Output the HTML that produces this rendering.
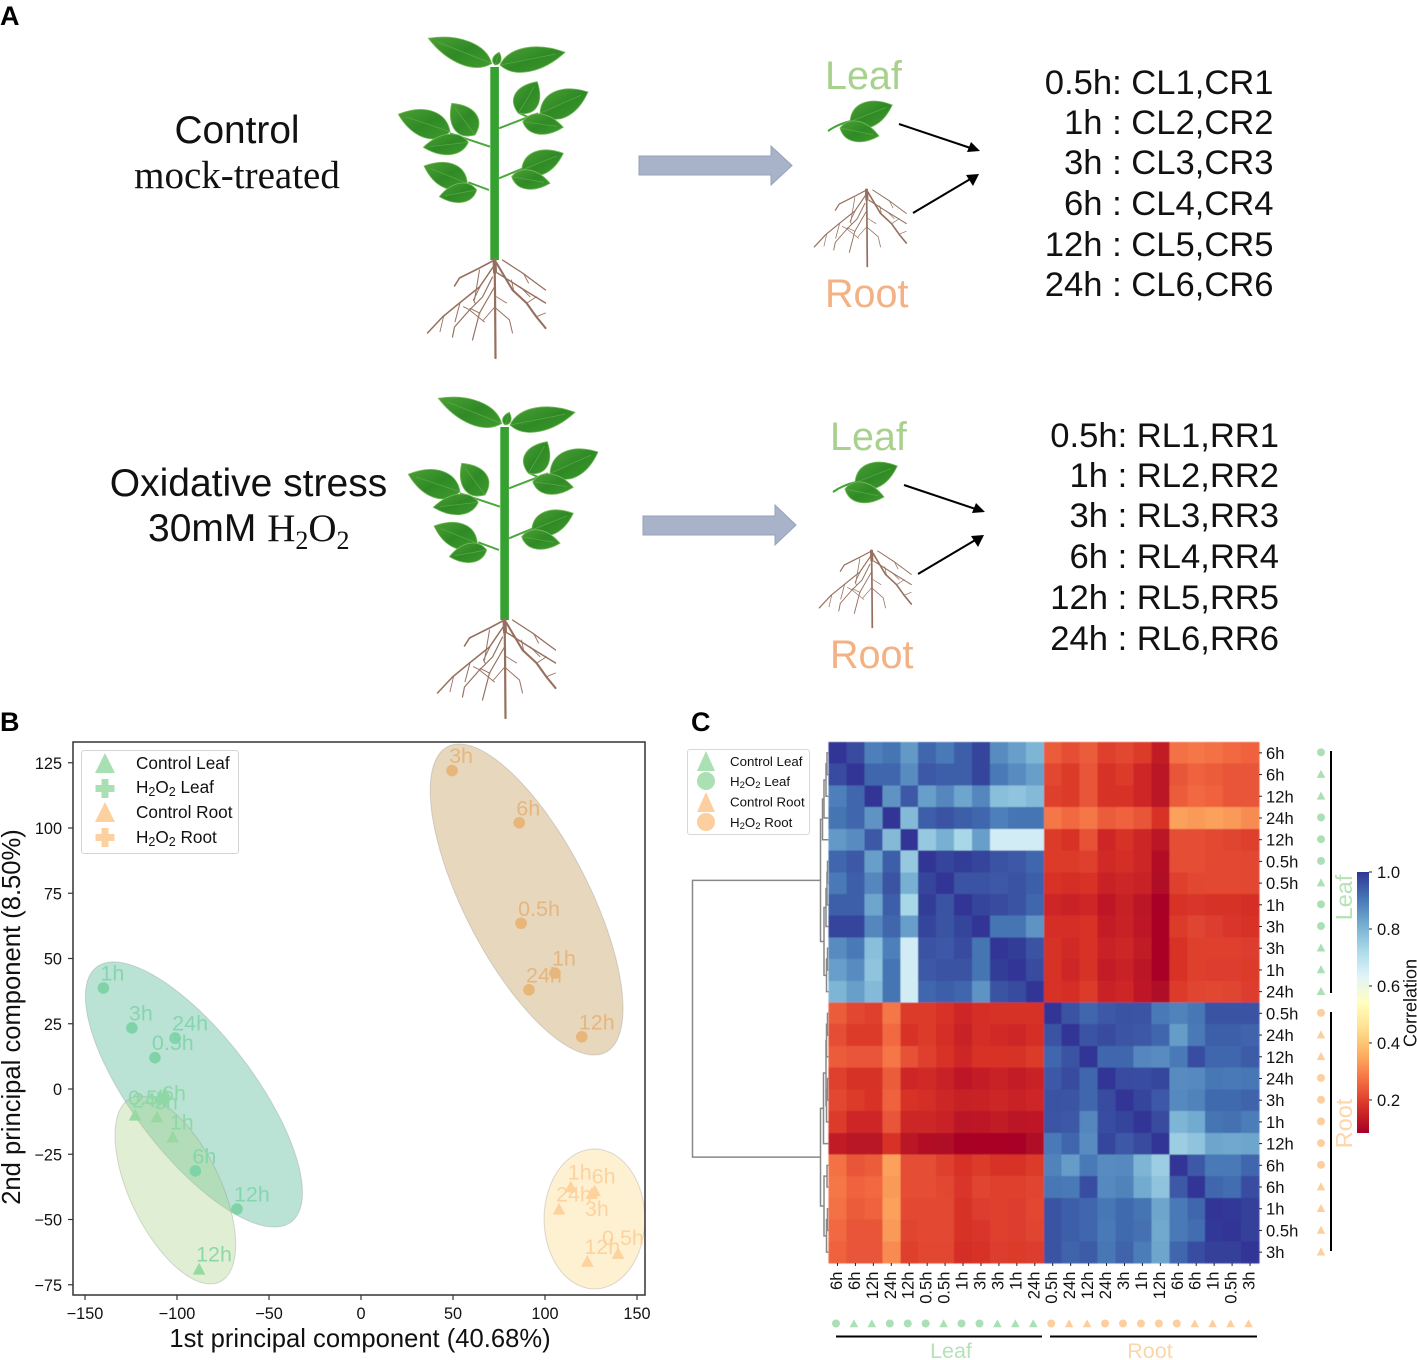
<!DOCTYPE html>
<html lang="en">
<head>
<meta charset="utf-8">
<title>Oxidative stress experiment, PCA and correlation heatmap</title>
<style>
html,body{margin:0;padding:0;background:#fff;}
svg{display:block;}
text{font-family:"Liberation Sans",sans-serif;}
.serif{font-family:"Liberation Serif",serif;}
</style>
</head>
<body>
<svg id="fig" xmlns="http://www.w3.org/2000/svg" width="1417" height="1360" viewBox="0 0 1417 1360">
  <defs>
    <linearGradient id="leafGrad" x1="0" y1="0" x2="1" y2="1">
      <stop offset="0" stop-color="#4da035"/>
      <stop offset=".5" stop-color="#2f8a26"/>
      <stop offset="1" stop-color="#3f9a2e"/>
    </linearGradient>
    <filter id="soften" x="-5%" y="-5%" width="110%" height="110%"><feGaussianBlur stdDeviation=".35"/></filter>
    <filter id="heatSoften" x="-1%" y="-1%" width="102%" height="102%"><feGaussianBlur stdDeviation=".5"/></filter>
    <linearGradient id="cbGrad" x1="0" y1="0" x2="0" y2="1"></linearGradient>
  </defs>
  <rect width="1417" height="1360" fill="#fff"/>
  <text x="0" y="25" font-size="27" font-weight="bold">A</text>
  <text x="0" y="731" font-size="27" font-weight="bold">B</text>
  <text x="691" y="731" font-size="27" font-weight="bold">C</text>

  <g id="panelA">
    <text x="237" y="143" font-size="38.8" text-anchor="middle" fill="#111">Control</text>
    <text class="serif" x="237" y="188" font-size="39" text-anchor="middle" fill="#111">mock-treated</text>
    <text x="248.5" y="496" font-size="39" text-anchor="middle" fill="#111">Oxidative stress</text>
    <text x="148" y="541" font-size="39" fill="#111">30mM <tspan class="serif">H</tspan><tspan class="serif" font-size="26" dy="8">2</tspan><tspan class="serif" dy="-8">O</tspan><tspan class="serif" font-size="26" dy="8">2</tspan></text>

    <path d="M639,156H771V146L792,165.5L771,185V175H639Z" fill="#a8b3ca" stroke="#95a1ba"/>
    <path d="M643,516H775V505L796,525L775,545V535H643Z" fill="#a8b3ca" stroke="#95a1ba"/>

    <text x="825" y="89" font-size="39.5" fill="#a9d18e">Leaf</text>
    <text x="825" y="307" font-size="39.5" fill="#f4b183">Root</text>
    <text x="830" y="450" font-size="39.5" fill="#a9d18e">Leaf</text>
    <text x="830" y="668" font-size="39.5" fill="#f4b183">Root</text>

    <g font-size="34.6" text-anchor="end" fill="#111">
      <text x="1273.5" y="94">0.5h: CL1,CR1</text>
      <text x="1273.5" y="134">1h : CL2,CR2</text>
      <text x="1273.5" y="174">3h : CL3,CR3</text>
      <text x="1273.5" y="215">6h : CL4,CR4</text>
      <text x="1273.5" y="256">12h : CL5,CR5</text>
      <text x="1273.5" y="296">24h : CL6,CR6</text>
    </g>
    <g font-size="34.6" text-anchor="end" fill="#111">
      <text x="1279" y="447">0.5h: RL1,RR1</text>
      <text x="1279" y="487">1h : RL2,RR2</text>
      <text x="1279" y="527">3h : RL3,RR3</text>
      <text x="1279" y="568">6h : RL4,RR4</text>
      <text x="1279" y="609">12h : RL5,RR5</text>
      <text x="1279" y="650">24h : RL6,RR6</text>
    </g>
  </g>

  <g id="panelB">
    <g id="pcaEllipses"></g>
    <g id="pcaPoints"></g>
    <g id="pcaLabels" font-size="21.5"></g>
    <rect x="73" y="742" width="572" height="553" fill="none" stroke="#333" stroke-width="1.5"/>
    <g id="pcaTicks" font-size="16.3" fill="#111"></g>
    <text x="360" y="1347" font-size="25.6" text-anchor="middle" fill="#111">1st principal component (40.68%)</text>
    <text transform="translate(20,1017) rotate(-90)" font-size="25.6" text-anchor="middle" fill="#111">2nd principal component (8.50%)</text>
    <g>
      <rect x="81.5" y="750.5" width="157" height="103" rx="2.5" fill="#fff" fill-opacity=".85" stroke="#d5d5d5"/>
      <path d="M105,753L115,773H95Z" fill="#a8e0b3"/>
      <path d="M101.5,779h7v6h6v7h-6v6h-7v-6h-6v-7h6Z" fill="#a8e0b3"/>
      <path d="M105,802L115,822H95Z" fill="#fdd0a0"/>
      <path d="M101.5,828h7v6h6v7h-6v6h-7v-6h-6v-7h6Z" fill="#fdd0a0"/>
      <g font-size="17.2" fill="#111">
        <text x="136" y="769">Control Leaf</text>
        <text x="136" y="793">H<tspan font-size="12.5" dy="3">2</tspan><tspan dy="-3">O</tspan><tspan font-size="12.5" dy="3">2</tspan><tspan dy="-3"> Leaf</tspan></text>
        <text x="136" y="818">Control Root</text>
        <text x="136" y="843">H<tspan font-size="12.5" dy="3">2</tspan><tspan dy="-3">O</tspan><tspan font-size="12.5" dy="3">2</tspan><tspan dy="-3"> Root</tspan></text>
      </g>
    </g>
  </g>

  <g id="panelC">
    <g id="heatCells" shape-rendering="crispEdges" filter="url(#heatSoften)"></g>
    <g id="dendro" fill="none" stroke="#888" stroke-width="1.5"></g>
    <g id="heatTicks" font-size="16.6" fill="#111"></g>
    <g id="heatMarkers"></g>
    <rect x="1330" y="751" width="2" height="242" fill="#000"/>
    <rect x="1330" y="1012" width="2" height="239" fill="#000"/>
    <rect x="836" y="1335.5" width="206" height="2" fill="#000"/>
    <rect x="1050" y="1335.5" width="207" height="2" fill="#000"/>
    <text x="951" y="1358" font-size="21.5" text-anchor="middle" fill="#b5e2b7">Leaf</text>
    <text x="1150" y="1358" font-size="21.5" text-anchor="middle" fill="#fdd5aa">Root</text>
    <text transform="translate(1352,897.5) rotate(-90)" font-size="23.4" text-anchor="middle" fill="#b5e2b7">Leaf</text>
    <text transform="translate(1352,1123.5) rotate(-90)" font-size="23.4" text-anchor="middle" fill="#fdd5aa">Root</text>
    <rect x="1357" y="872" width="12" height="261" fill="url(#cbGrad)"/>
    <g id="cbTicks" font-size="16.6" fill="#111"></g>
    <text transform="translate(1416.5,1003) rotate(-90)" font-size="18" text-anchor="middle" fill="#111">Correlation</text>
    <g>
      <rect x="687.5" y="749.5" width="122" height="85" rx="2.5" fill="#fff" stroke="#d8d8d8"/>
      <path d="M706,751L715,771H697Z" fill="#abe0b5"/>
      <circle cx="706" cy="781" r="9" fill="#abe0b5"/>
      <path d="M706,792L715,812H697Z" fill="#fdcfa0"/>
      <circle cx="706" cy="822" r="9" fill="#fdcfa0"/>
      <g font-size="13.3" fill="#111">
        <text x="730" y="766">Control Leaf</text>
        <text x="730" y="786">H<tspan font-size="9.5" dy="2">2</tspan><tspan dy="-2">O</tspan><tspan font-size="9.5" dy="2">2</tspan><tspan dy="-2"> Leaf</tspan></text>
        <text x="730" y="806.5">Control Root</text>
        <text x="730" y="827">H<tspan font-size="9.5" dy="2">2</tspan><tspan dy="-2">O</tspan><tspan font-size="9.5" dy="2">2</tspan><tspan dy="-2"> Root</tspan></text>
      </g>
    </g>
  </g>
</svg>

<script>
/* ---------- PCA data ---------- */
const pcaXTicks = [-150, -100, -50, 0, 50, 100, 150];
const pcaYTicks = [125, 100, 75, 50, 25, 0, -25, -50, -75];
const timeLabelsLeafH2O2 = ['1h', '3h', '24h', '0.5h', '6h', '12h'];
const pc1LeafH2O2 = [-140, -124.5, -101, -112, -90, -67.4];
const pc2LeafH2O2 = [38.7, 23.4, 19.5, 12, -31.4, -46];
const timeLabelsLeafControl = ['0.5h', '6h', '24h', '3h', '1h', '12h'];
const pc1LeafControl = [-109.2, -106.5, -122.8, -110.9, -102.3, -88];
const pc2LeafControl = [-3.4, -1.5, -10, -10.7, -18.4, -69];
const timeLabelsRootH2O2 = ['3h', '6h', '0.5h', '1h', '24h', '12h'];
const pc1RootH2O2 = [49.5, 86, 87, 105.4, 91.3, 120];
const pc2RootH2O2 = [122, 102, 63.5, 44.4, 38, 20];
const timeLabelsRootControl = ['1h', '6h', '24h', '3h', '0.5h', '12h'];
const pc1RootControl = [114, 127, 107.6, 125.5, 139.7, 123];
const pc2RootControl = [-37.5, -39, -46, -40, -63, -66];

/* ellipse parameters in data units: centre x, centre y, x radius, y radius, correlation */
const ellipseLeafH2O2 = [-90.8, -2.1, 59, 50.8, -0.74];
const ellipseLeafControl = [-100.9, -38.7, 32.8, 36, -0.58];
const ellipseRootH2O2 = [90, 72.6, 52.4, 59.6, -0.70];
const ellipseRootControl = [126.9, -49.8, 27.4, 26.8, 0];

/* ---------- Heatmap data ---------- */
const sampleLabels = ['6h','6h','12h','24h','12h','0.5h','0.5h','1h','3h','3h','1h','24h',
                      '0.5h','24h','12h','24h','3h','1h','12h','6h','6h','1h','0.5h','3h'];
const sampleKinds = ['c','t','t','c','c','c','t','c','c','t','t','t',
                     'c','t','t','c','c','c','c','c','t','t','t','t'];
const leafLeaf = [
 [1.00,.97,.89,.91,.85,.93,.90,.94,.98,.87,.84,.80],
 [.97,1.00,.93,.93,.87,.95,.94,.94,.98,.90,.87,.84],
 [.89,.93,1.00,.86,.95,.84,.88,.83,.88,.78,.77,.79],
 [.91,.93,.86,1.00,.79,.94,.96,.94,.93,.89,.91,.91],
 [.85,.87,.95,.79,1.00,.76,.81,.73,.84,.66,.66,.66],
 [.93,.95,.84,.94,.76,1.00,.98,.99,.98,.96,.95,.93],
 [.90,.94,.88,.96,.81,.98,1.00,.96,.96,.95,.96,.94],
 [.94,.94,.83,.94,.73,.99,.96,1.00,.98,.97,.96,.93],
 [.98,.98,.88,.93,.84,.98,.96,.98,1.00,.91,.91,.86],
 [.87,.90,.78,.89,.66,.96,.95,.97,.91,1.00,.99,.96],
 [.84,.87,.77,.91,.66,.95,.96,.96,.91,.99,1.00,.97],
 [.80,.84,.79,.91,.66,.93,.94,.93,.86,.96,.97,1.00]
];
const leafRoot = [
 [.24,.22,.24,.20,.21,.19,.135,.27,.28,.27,.26,.25],
 [.21,.19,.23,.175,.19,.16,.12,.23,.25,.24,.23,.23],
 [.20,.19,.23,.175,.18,.16,.12,.24,.26,.25,.23,.23],
 [.28,.26,.28,.24,.25,.23,.18,.34,.33,.34,.33,.31],
 [.19,.18,.225,.16,.175,.155,.12,.22,.22,.215,.205,.20],
 [.19,.19,.20,.165,.17,.155,.11,.22,.22,.215,.215,.21],
 [.18,.17,.18,.15,.155,.15,.105,.20,.21,.215,.215,.21],
 [.16,.15,.16,.13,.145,.125,.09,.18,.185,.175,.175,.17],
 [.17,.17,.18,.14,.15,.13,.095,.19,.205,.195,.185,.18],
 [.175,.165,.18,.15,.155,.135,.095,.18,.20,.20,.20,.195],
 [.175,.16,.175,.14,.15,.125,.09,.18,.20,.195,.195,.19],
 [.175,.17,.19,.15,.16,.13,.105,.19,.205,.21,.205,.195]
];
const rootRoot = [
 [1.00,.96,.93,.95,.96,.955,.90,.885,.905,.96,.96,.96],
 [.96,1.00,.96,.97,.955,.95,.93,.845,.90,.94,.94,.935],
 [.93,.96,1.00,.93,.93,.88,.87,.90,.965,.93,.93,.945],
 [.95,.97,.93,1.00,.97,.965,.975,.87,.875,.905,.90,.905],
 [.96,.955,.93,.97,1.00,.98,.95,.875,.885,.925,.925,.935],
 [.955,.95,.88,.965,.98,1.00,.97,.80,.82,.91,.915,.895],
 [.90,.93,.87,.975,.95,.97,1.00,.75,.77,.83,.825,.83],
 [.885,.845,.90,.87,.875,.80,.75,1.00,.95,.90,.90,.93],
 [.905,.90,.965,.875,.885,.82,.77,.95,1.00,.93,.92,.965],
 [.96,.94,.93,.905,.925,.91,.83,.90,.93,1.00,.995,.985],
 [.96,.94,.93,.90,.925,.915,.825,.90,.92,.995,1.00,.985],
 [.96,.935,.945,.905,.935,.895,.83,.93,.965,.985,.985,1.00]
];
/* linkage tree: [merge height, child, child]; numbers are row indexes */
const rowLinkage = [136,
  [8,
    [6,[4.5,[2.5,[1.5,0,1],2],3],4],
    [4.5,[2.5,[1.5,[1,5,6],7],8],[2,[1,9,10],11]]
  ],
  [8,
    [5,[2.5,[2,[1,12,13],14],[2,[1,15,16],17]],18],
    [4.5,[1.5,19,20],[2,[1,21,22],23]]
  ]
];
const colorbarTicks = [1.0, 0.8, 0.6, 0.4, 0.2];
const colorbarMin = 0.084;
const colorbarMax = 1.0;

/* ---------- helpers ---------- */
const NS = 'http://www.w3.org/2000/svg';
function mk(tag, attrs, parent){
  const e = document.createElementNS(NS, tag);
  for (const k in attrs) e.setAttribute(k, attrs[k]);
  parent.appendChild(e);
  return e;
}
const $ = id => document.getElementById(id);

/* ---------- Plant illustration ---------- */
function leafPath(bx, by, tx, ty, w){
  const dx = tx-bx, dy = ty-by, L = Math.hypot(dx,dy), nx = -dy/L, ny = dx/L;
  const p = (a,o) => (bx+dx*a+nx*o*w).toFixed(1)+','+(by+dy*a+ny*o*w).toFixed(1);
  return 'M'+bx+','+by+'C'+p(.18,.82)+' '+p(.62,.78)+' '+tx+','+ty+'C'+p(.62,-.78)+' '+p(.18,-.82)+' '+bx+','+by+'Z';
}
function drawLeaf(parent, l){
  const a = mk('path', {d:leafPath(l[0],l[1],l[2],l[3],l[4]), fill:'url(#leafGrad)', stroke:'#77ba5c', 'stroke-width':'.8'}, parent);
  
  
  const v = mk('line', {x1:l[0],y1:l[1],x2:l[0]+(l[2]-l[0])*.85,y2:l[1]+(l[3]-l[1])*.85, stroke:'#5cab45','stroke-width':'.7'}, parent);
  
  
}
function drawRoots(parent, ox, oy, s){
  const g = mk('g', {transform:'translate('+ox+','+oy+') scale('+s+')', fill:'none', stroke:'#96705f', 'stroke-linecap':'round', 'stroke-linejoin':'round', filter:'url(#soften)'}, parent);
  
  
  const branches = [
    [4,[[0,0],[.5,12]]],
    [2.2,[[0,0],[.5,30],[1,98]]],
    [1.6,[[0,0],[-15,8],[-35,18],[-40,26]]],
    [1.5,[[0,5],[-15,27],[-35,43],[-52,57],[-67,73]]],
    [1.2,[[-2,17],[-12,37],[-25,50],[-40,67],[-42,77]]],
    [1.2,[[0,27],[-15,53],[-22,80]]],
    [2.1,[[2,3],[18,30],[32,43],[42,57],[51,68]]],
    [1.3,[[8,0],[28,13],[51,30]]],
    [1.4,[[3,13],[25,27],[51,43]]],
    [1,[[0,47],[15,60],[18,73]]],
    [1,[[-15,10],[-20,40]]],
    [1,[[-14.5,26.7],[-21,40],[-19.5,43]]],
    [.9,[[-24.5,50],[-31,46.7]]],
    [1,[[-34.5,43],[-39.5,61.7]]],
    [.9,[[-51,56.7],[-54.5,71.7]]],
    [.9,[[-14.5,53.3],[-24.5,48.3]]],
    [.9,[[19,30],[17,20]]],
    [.9,[[32,43.3],[42,36.7]]],
    [.9,[[29,13.3],[34,23]]],
    [.9,[[42,56.7],[51,53]]],
    [.9,[[25.5,26.7],[35.5,36.7]]],
    [.9,[[.5,46.7],[-11,60]]],
    [.9,[[2,36.7],[12,43]]],
    [.9,[[-25,50],[-10,62]]]
  ];
  branches.forEach(b => {
    const pts = b[1].map(p => p[0]+','+p[1]).join(' ');
    const r = mk('polyline', {points:pts, 'stroke-width':b[0]}, g);
    
    
  });
}
function drawPlant(ox, oy, name){
  const host = $('panelA');
  const g = mk('g', {transform:'translate('+ox+','+oy+')'}, host);
  
  
  [[499,128.3,538,113.3],[490,146.7,450,133.3],[499,178.3,523.3,168.3],[489,190,468.3,182.3],[528,117,519,113]].forEach(b => {
    const br = mk('line', {x1:b[0],y1:b[1],x2:b[2],y2:b[3],stroke:'#4aa83a','stroke-width':'2'}, g);
    
    
  });
  [[491.7,63.5,428.3,38.3,20],[500,65,565,52.3,20],[495,65,499.3,52.3,7],
   [518.3,113.3,537.3,81.7,21],[540,113.3,588,92,23],[522.7,121.7,563.3,127.3,17],
   [450,131.7,398.3,114.3,23],[475,135,451.7,103.3,22],[468.3,142.3,423.3,147.3,17],
   [521.7,170,563.3,153.3,20],[511.7,176.7,550,183.3,16],
   [467.3,183.3,424,166,21],[476.7,190,439.3,196.7,16]].forEach(l => drawLeaf(g,l));
  const st = mk('rect', {x:490.3,y:67,width:8.6,height:193,fill:'#35a130'}, g);
  
  
  drawRoots(g, 494.5, 260, 1);
}
function drawCutting(ox, oy, name){
  const g = mk('g', {transform:'translate('+ox+','+oy+')'}, $('panelA'));
  
  
  const st = mk('path', {d:'M828,131Q838,124 851,121', fill:'none', stroke:'#42a535','stroke-width':'2'}, g);
  
  
  drawLeaf(g,[850,121.7,892.3,105,21]);
  drawLeaf(g,[840,128,879,136,17]);
  drawRoots(g, 866.5, 190, .78);
  [[899,124,972,148.5,'#000',980,151,967,152,971,142],[913,213,972,178,'#000',979,174,973,186,966,175]].forEach(a => {
    const ln = mk('line', {x1:a[0],y1:a[1],x2:a[2],y2:a[3],stroke:a[4],'stroke-width':'2'}, g);
    
    
    const hd = mk('polygon', {points:[a[5],a[6],a[7],a[8],a[9],a[10]].join(','), fill:a[4]}, g);
    
    
  });
}
drawPlant(0, 0, 'control-plant');
drawPlant(10, 360, 'stress-plant');
drawCutting(0, 0, 'control-cuttings');
drawCutting(5, 361, 'stress-cuttings');

/* ---------- PCA chart ---------- */
const xPx = v => 361 + v * 1.84;
const yPx = v => 1089 - v * 2.61;

function drawEllipse(par, fill, alpha, name){
  let d = '';
  const r = par[4], q = Math.sqrt(1 - r*r);
  for (let i = 0; i <= 96; i++){
    const t = i / 96 * 2 * Math.PI;
    const vx = par[0] + par[2] * Math.cos(t);
    const vy = par[1] + par[3] * (r * Math.cos(t) + q * Math.sin(t));
    d += (i ? 'L' : 'M') + xPx(vx).toFixed(2) + ',' + yPx(vy).toFixed(2);
  }
  const e = mk('path', {d:d+'Z', fill:fill, 'fill-opacity':alpha, stroke:'#888', 'stroke-opacity':.3, 'stroke-width':1}, $('pcaEllipses'));
  
  
}
drawEllipse(ellipseLeafH2O2, '#66c2a5', .45, 'ellipse-h2o2-leaf');
drawEllipse(ellipseLeafControl, '#a6d082', .35, 'ellipse-control-leaf');
drawEllipse(ellipseRootH2O2, '#c49a5a', .40, 'ellipse-h2o2-root');
drawEllipse(ellipseRootControl, '#fdd87f', .35, 'ellipse-control-root');

function triPath(x, y, hw, up, down){
  return 'M'+x.toFixed(2)+','+(y-up).toFixed(2)+'L'+(x+hw).toFixed(2)+','+(y+down).toFixed(2)+'L'+(x-hw).toFixed(2)+','+(y+down).toFixed(2)+'Z';
}
const labelNudge = {
  'control-leaf|0.5h':[-29,14.5], 'control-leaf|6h':[0,15],
  'control-root|3h':[-4,30], 'control-root|0.5h':[-13,-1]
};
function drawSeries(key, labels, xs, ys, kind, markColor, textColor){
  labels.forEach((lab, i) => {
    const px = xPx(xs[i]), py = yPx(ys[i]);
    let m;
    if (kind === 'c') {
      m = mk('circle', {cx:px.toFixed(2), cy:py.toFixed(2), r:5.8, fill:markColor}, $('pcaPoints'));
    } else {
      m = mk('path', {d:triPath(px, py, 6.3, 6.3, 5.5), fill:markColor}, $('pcaPoints'));
    }
    
    
    const n = labelNudge[key + '|' + lab] || [0,0];
    const t = mk('text', {x:(px-3+n[0]).toFixed(2), y:(py-7.5+n[1]).toFixed(2), fill:textColor}, $('pcaLabels'));
    t.textContent = lab;
    
    
  });
}
drawSeries('h2o2-leaf', timeLabelsLeafH2O2, pc1LeafH2O2, pc2LeafH2O2, 'c', '#80d3a6', '#85d6ae');
drawSeries('control-leaf', timeLabelsLeafControl, pc1LeafControl, pc2LeafControl, 't', '#97d9a0', '#8ed7a6');
drawSeries('h2o2-root', timeLabelsRootH2O2, pc1RootH2O2, pc2RootH2O2, 'c', '#e9b679', '#e6b67c');
drawSeries('control-root', timeLabelsRootControl, pc1RootControl, pc2RootControl, 't', '#fdd29c', '#fcd29e');

pcaXTicks.forEach(v => {
  const x = xPx(v);
  const tk = mk('line', {x1:x,x2:x,y1:1295,y2:1300,stroke:'#333','stroke-width':1.2}, $('pcaTicks'));
  
  
  const t = mk('text', {x:x, y:1319, 'text-anchor':'middle'}, $('pcaTicks'));
  t.textContent = String(v).replace('-', '\u2212');
  
  
});
pcaYTicks.forEach(v => {
  const y = yPx(v);
  const tk = mk('line', {x1:68,x2:73,y1:y,y2:y,stroke:'#333','stroke-width':1.2}, $('pcaTicks'));
  
  
  const t = mk('text', {x:62, y:y+6, 'text-anchor':'end'}, $('pcaTicks'));
  t.textContent = String(v).replace('-', '\u2212');
  
  
});

/* ---------- Heatmap ---------- */
const heatLeft = 828.5, heatTop = 742, heatCell = 430.5 / 24, heatCellY = 521 / 24;
const colX = i => heatLeft + i * heatCell;
const rowY = i => heatTop + i * heatCellY;
const cmapStops = ['#a50026','#d73027','#f46d43','#fdae61','#fee090','#ffffbf','#e0f3f8','#abd9e9','#74add1','#4575b4','#313695'];
function hexRgb(h){ return [1,3,5].map(i => parseInt(h.substr(i,2),16)); }
function cmap(v){
  let t = (v - colorbarMin) / (colorbarMax - colorbarMin);
  t = Math.max(0, Math.min(1, t)) * (cmapStops.length - 1);
  const i = Math.min(Math.floor(t), cmapStops.length - 2), f = t - i;
  const a = hexRgb(cmapStops[i]), b = hexRgb(cmapStops[i+1]);
  return 'rgb(' + a.map((c,k) => Math.round(c + (b[k]-c)*f)).join(',') + ')';
}
function corr(r, c){
  if (r < 12 && c < 12) return leafLeaf[r][c];
  if (r >= 12 && c >= 12) return rootRoot[r-12][c-12];
  if (r < 12) return leafRoot[r][c-12];
  return leafRoot[c][r-12];
}
for (let r = 0; r < 24; r++){
  for (let c = 0; c < 24; c++){
    const cell = mk('rect', {x:colX(c).toFixed(2), y:rowY(r).toFixed(2), width:(heatCell+.4).toFixed(2), height:(heatCellY+.4).toFixed(2), fill:cmap(corr(r,c))}, $('heatCells'));
    
    
  }
}
/* sample labels, ticks, markers */
function kindColor(i){ return i < 12 ? '#abe0b5' : '#fdcfa0'; }
sampleLabels.forEach((lab, i) => {
  const cy = rowY(i + .5), cx = colX(i + .5);
  const rt = mk('line', {x1:1259,x2:1262,y1:cy,y2:cy,stroke:'#222','stroke-width':1}, $('heatTicks'));
  
  
  const rl = mk('text', {x:1266, y:cy+6}, $('heatTicks'));
  rl.textContent = lab;
  
  
  const ct = mk('line', {x1:cx,x2:cx,y1:1263,y2:1266,stroke:'#222','stroke-width':1}, $('heatTicks'));
  
  
  const cl = mk('text', {transform:'translate('+(cx+4.5)+',1271.5) rotate(-90)', 'text-anchor':'end'}, $('heatTicks'));
  cl.textContent = lab;
  
  

  const mx = 1321, my = cy - .5;
  const bx = cx - 1.5, by = 1323.5;
  let a, b;
  if (sampleKinds[i] === 'c') {
    a = mk('circle', {cx:mx, cy:my, r:4, fill:kindColor(i)}, $('heatMarkers'));
    b = mk('circle', {cx:bx, cy:by, r:4, fill:kindColor(i)}, $('heatMarkers'));
  } else {
    a = mk('path', {d:triPath(mx, my, 4.3, 4.3, 3.8), fill:kindColor(i)}, $('heatMarkers'));
    b = mk('path', {d:triPath(bx, by, 4.3, 4.3, 3.8), fill:kindColor(i)}, $('heatMarkers'));
  }
  
  
  
  
});
/* dendrogram from linkage */
function drawNode(node){
  if (typeof node === 'number') return {x: heatLeft, y: rowY(node + .5)};
  const l = drawNode(node[1]), r = drawNode(node[2]);
  const x = heatLeft - node[0];
  const p = mk('path', {d:'M'+l.x+','+l.y+'H'+x+'V'+r.y+'H'+r.x}, $('dendro'));
  
  
  return {x:x, y:(l.y + r.y) / 2};
}
drawNode(rowLinkage);
/* colorbar */
const cbY = v => 872 + (colorbarMax - v) / (colorbarMax - colorbarMin) * 261;
for (let i = 0; i <= 40; i++){
  const v = colorbarMax - i / 40 * (colorbarMax - colorbarMin);
  const s = mk('stop', {offset:(i/40).toFixed(3), 'stop-color':cmap(v)}, $('cbGrad'));
  
  
}
colorbarTicks.forEach(v => {
  const y = cbY(v);
  const tk = mk('line', {x1:1369,x2:1372,y1:y,y2:y,stroke:'#222','stroke-width':1}, $('cbTicks'));
  
  
  const t = mk('text', {x:1377, y:y+6}, $('cbTicks'));
  t.textContent = v.toFixed(1);
  
  
});
</script>
</body>
</html>
